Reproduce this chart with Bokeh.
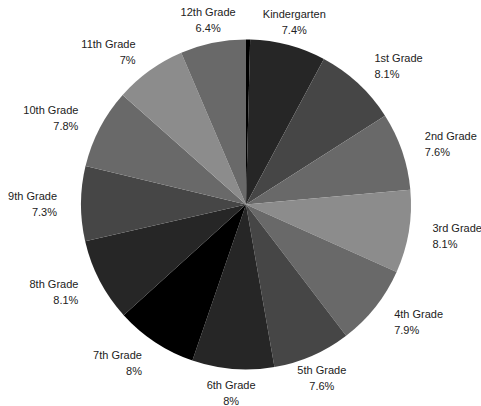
import math
from bokeh.plotting import figure
from bokeh.models import ColumnDataSource, Range1d
from bokeh.embed import file_html
from bokeh.resources import INLINE
from bokeh.core.properties import value

labels = ["", "Kindergarten", "1st Grade", "2nd Grade", "3rd Grade", "4th Grade",
          "5th Grade", "6th Grade", "7th Grade", "8th Grade", "9th Grade",
          "10th Grade", "11th Grade", "12th Grade"]
percents = [0.4, 7.4, 8.1, 7.6, 8.1, 7.9, 7.6, 8.0, 8.0, 8.1, 7.3, 7.8, 7.0, 6.4]
colors = ["#000000", "#262626", "#464646", "#696969", "#8c8c8c", "#696969",
          "#464646", "#262626", "#000000", "#262626", "#464646", "#696969",
          "#8c8c8c", "#696969"]

W, H = 481, 406
cx, cy, r = 245.5, 202.0, 165.0
lr = 189.0

total = sum(percents)
starts, ends = [], []
acc = 0.0
for v in percents:
    t0 = acc / total * 2 * math.pi
    acc += v
    t1 = acc / total * 2 * math.pi
    starts.append(math.pi / 2 - t0)
    ends.append(math.pi / 2 - t1)

src = ColumnDataSource(dict(start=starts, end=ends, color=colors))

p = figure(width=W, height=H, output_backend="svg", toolbar_location=None,
           x_range=Range1d(0, W), y_range=Range1d(0, H), min_border=0)
p.axis.visible = False
p.grid.visible = False
p.outline_line_color = None

p.wedge(x=cx, y=cy, radius=r, start_angle="start", end_angle="end",
        direction="clock", fill_color="color", line_color=None, source=src)

nx, ny, nt, py, pt, al = [], [], [], [], [], []
acc = 0.0
for lab, v in zip(labels, percents):
    mid = (acc + v / 2) / total * 2 * math.pi
    acc += v
    if not lab:
        continue
    x = cx + lr * math.sin(mid)
    y = cy + lr * math.cos(mid)
    s = math.sin(mid)
    if abs(s) < 0.5:
        a = "center"
    elif s > 0:
        a = "left"
    else:
        a = "right"
    nx.append(x)
    ny.append(y + 7.5)
    py.append(y - 8.5)
    nt.append(lab)
    pt.append(f"{v:g}%")
    al.append(a)

tsrc = ColumnDataSource(dict(x=nx, ny=ny, py=py, nt=nt, pt=pt, al=al))
for ycol, tcol in (("ny", "nt"), ("py", "pt")):
    p.text(x="x", y=ycol, text=tcol, text_align="al", text_baseline="middle",
           text_font=value("Liberation Sans"), text_font_size="11px",
           text_color="#222222", source=tsrc)

open("out.html", "w").write(file_html(p, INLINE))
